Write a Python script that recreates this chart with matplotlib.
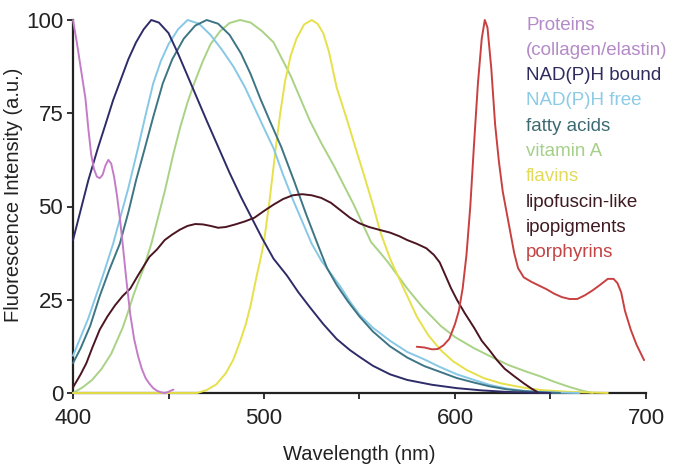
import matplotlib
matplotlib.use("Agg")
import matplotlib.pyplot as plt

plt.rcParams["font.family"] = ["Liberation Sans", "DejaVu Sans"]

# wavelengths (nm) and normalised intensities
proteins_wl = [400, 401, 402, 403.5, 405, 406.5, 408, 409.5, 411, 412.5, 414, 415.5, 417, 418.5,
               420, 421.5, 423, 424.5, 426, 428, 430, 432, 434, 436, 438, 440, 442, 444, 446,
               448, 450, 451.5, 452.6]
proteins = [100, 97, 94, 89, 84, 79, 71, 64, 60, 58, 57.6, 58.5, 61, 62.5,
            61.5, 58, 53, 47, 40, 30, 21, 14.5, 10, 6.5, 4, 2.5, 1.3, 0.6, 0.2,
            0, 0.3, 0.7, 0.9]

bound_wl = [400, 404, 408, 413, 417, 421, 425, 429, 433, 437, 441, 445, 450, 455, 460, 465,
            470, 476, 482, 488, 494, 499, 505, 512, 518, 524, 531, 538, 545, 550, 557, 566,
            575, 588, 601, 614, 627, 640, 650]
bound = [41, 49, 57, 65.6, 72, 78.5, 84, 89.5, 94, 97.5, 100, 99.3, 96.5, 91, 85, 79,
         73, 66, 59, 52.5, 46.5, 41.5, 36, 31.5, 27, 23, 18.5, 14.5, 11.5, 9.7, 7.3, 5,
         3.5, 2.2, 1.3, 0.7, 0.3, 0.1, 0]

free_wl = [400, 404, 408, 412, 416, 421, 425, 429, 434, 438, 442, 446, 450, 455, 460, 466,
           472, 478, 484, 490, 495, 500, 505, 510, 515, 520, 525, 530, 535, 540, 545, 550,
           557, 566, 575, 584, 592, 601, 610, 618, 627, 636, 645, 655, 665]
free = [10, 15, 20, 26, 32, 40, 47.5, 55, 65.6, 74.5, 83, 89, 93.5, 97.5, 100, 99,
        96, 92, 87.5, 82, 76.5, 71, 65.6, 58.5, 52, 46, 40, 35.5, 32, 28.5, 24.5, 21,
        17.5, 14, 11, 9, 7, 5, 3.5, 2.2, 1.2, 0.6, 0.3, 0.1, 0]

fatty_wl = [400, 404, 409, 414, 419, 424.5, 429, 433, 437.6, 442, 447, 452, 458, 464, 470,
            476, 482, 488, 493, 498, 503, 509, 516, 522, 528, 533, 538, 544, 550, 557, 566,
            575, 584, 592, 601, 610, 618, 627, 636, 645, 655]
fatty = [8, 12, 18, 26, 33, 40, 48.5, 57, 65.6, 74, 83, 89.5, 95, 98.5, 100,
         99, 96, 91, 85.5, 79, 73, 66, 56.5, 48, 40, 33.5, 29, 24.5, 20.5, 16.5, 12.5,
         9.5, 7.2, 5.7, 4, 2.8, 1.8, 1, 0.5, 0.2, 0]

vitA_wl = [400, 405, 410, 415, 420, 423, 426, 429, 431.5, 434, 437, 441, 444, 448, 452.5,
           456, 460, 463.8, 468, 472, 477, 482, 487.5, 493, 499, 505, 509.5, 514, 519, 524,
           530, 536.5, 542, 547, 551.5, 556, 561, 565, 570, 575, 583, 592.5, 600, 610, 619,
           628, 637, 645, 652, 660, 666, 672]
vitA = [0, 1.5, 3.5, 6.5, 10.5, 14, 17.5, 22, 26, 29.5, 33.5, 40, 46, 54, 64,
        71, 78, 83.5, 89, 93.5, 97, 99.2, 100, 99.3, 97, 94, 89.5, 85, 79, 73,
        67, 61, 55.5, 50.5, 45.5, 40.5, 37.5, 35, 31.5, 28, 23, 18, 15, 12, 9.7,
        7.5, 5.8, 4.4, 3, 1.6, 0.7, 0]

flavins_wl = [400, 450, 465, 470, 475, 480, 484, 487.6, 490.5, 493, 496, 498, 500, 503, 506,
              508.5, 511, 514, 517, 521, 525, 528, 531, 534, 538, 543, 548, 552, 557, 561,
              566, 570, 575, 580, 586, 592.5, 599, 606, 615, 624, 635, 645, 660, 680]
flavins = [0, 0, 0, 0.8, 2.3, 5.3, 9, 14, 18.5, 23.5, 31, 35.5, 40.5, 52, 65,
           75, 83.5, 90.5, 95, 98.8, 100, 99, 96.5, 91.5, 82, 74, 65.6, 59, 50.5, 43,
           36, 31.5, 26, 20.5, 15.5, 11.5, 8.5, 6.2, 4, 2.6, 1.5, 0.8, 0.3, 0]

lipo_wl = [400, 404, 407, 410, 414, 418, 422, 426, 430, 434, 437, 440, 444, 448, 452, 456,
           460, 464, 468, 472, 476, 480, 485, 490, 495, 500, 505, 510, 515, 520, 525, 530,
           535, 540, 545, 550, 555, 560, 566, 571, 575, 580, 585, 589, 592, 595, 598, 601,
           605, 610, 614, 618, 622, 626, 631, 636, 640, 643]
lipo = [1.5, 5, 8, 12, 17, 20.5, 23.5, 26, 28, 31.5, 34, 36.5, 38.5, 41, 42.5, 43.8,
        44.8, 45.3, 45.2, 44.8, 44.3, 44.5, 45.2, 46, 47, 48.8, 50.5, 52, 53, 53.3, 53, 52.3,
        51, 49, 47, 45.5, 44.5, 43.8, 43, 42, 41, 40, 38.8, 37, 35, 31.5, 28, 25,
        21.5, 17.5, 14, 11.5, 8.8, 6.5, 4.5, 2.6, 1.2, 0.3]

porph_wl = [580, 584, 588, 591, 594, 597, 600, 602, 604, 606, 608, 610, 612, 614, 615.6, 617,
            619, 621, 623, 625, 627, 629, 631, 633, 636, 640, 644, 648, 652, 656, 660, 664,
            668, 672, 676, 680, 683, 685, 687, 689, 692, 695, 699]
porph = [12.4, 12.2, 11.7, 11.8, 12.8, 14.5, 18.5, 22, 28, 37, 50, 67, 83, 95, 100, 98,
         87, 72, 62, 54, 48.5, 43, 37.5, 33.5, 31, 29.8, 28.8, 27.8, 26.6, 25.7, 25.2, 25.2,
         26.2, 27.5, 29, 30.6, 30.6, 29.5, 27, 22, 17, 13, 8.8]

c_prot = "#c57cc8"
c_bound = "#2e2c68"
c_free = "#86c8e6"
c_fatty = "#3d7585"
c_vita = "#a9d285"
c_flav = "#e6e04a"
c_lipo = "#4b1622"
c_porph = "#c94040"

legend_lines = ["Proteins", "(collagen/elastin)", "NAD(P)H bound", "NAD(P)H free",
                "fatty acids", "vitamin A", "flavins", "lipofuscin-like", "ipopigments",
                "porphyrins"]
legend_text_cols = ["#b48ac8", "#b48ac8", "#2e2c5e", "#8ccbe6", "#3d6a72", "#a6d08a",
                    "#e2da5a", "#3e1a22", "#3e1a22", "#c24444"]

fig = plt.figure(figsize=(6.73, 4.72), dpi=100)
ax = fig.add_axes([73 / 673, 79 / 472, 573 / 673, 373 / 472])

lw = 1.4
series = [
    (vitA_wl, vitA, c_vita),
    (flavins_wl, flavins, c_flav),
    (free_wl, free, c_free),
    (fatty_wl, fatty, c_fatty),
    (bound_wl, bound, c_bound),
    (lipo_wl, lipo, c_lipo),
    (porph_wl, porph, c_porph),
    (proteins_wl, proteins, c_prot),
]
for x, y, c in series:
    ax.plot(x, y, color=c, lw=lw, clip_on=False, solid_capstyle="round")

ax.set_xlim(400, 700)
ax.set_ylim(0, 100)
ax.set_xticks([400, 500, 600, 700])
ax.set_xticks([450, 550, 650], minor=True)
ax.set_yticks([0, 25, 50, 75, 100])
ax.tick_params(axis="both", which="both", direction="out", length=4, width=1.3,
               labelsize=16, colors="#222222")
ax.tick_params(axis="x", which="major", pad=7)
ax.tick_params(axis="y", pad=3)
for s in ["top", "right"]:
    ax.spines[s].set_visible(False)
for s in ["left", "bottom"]:
    ax.spines[s].set_linewidth(1.6)
    ax.spines[s].set_color("#222222")
    ax.spines[s].set_zorder(0.5)

ax.set_xlabel("Wavelength (nm)", fontsize=14.5, color="#222222")
ax.xaxis.set_label_coords(0.5, -0.14)
ax.set_ylabel("Fluorescence Intensity (a.u.)", fontsize=14.5, color="#222222")
ax.yaxis.set_label_coords(-0.088, 0.53)

y0 = 1 - 25 / 472
step = 25.3 / 472
for i, (txt, col) in enumerate(zip(legend_lines, legend_text_cols)):
    fig.text(526 / 673, y0 - i * step, txt, color=col, fontsize=13.5,
             ha="left", va="center")

fig.savefig("out.png", dpi=100)
